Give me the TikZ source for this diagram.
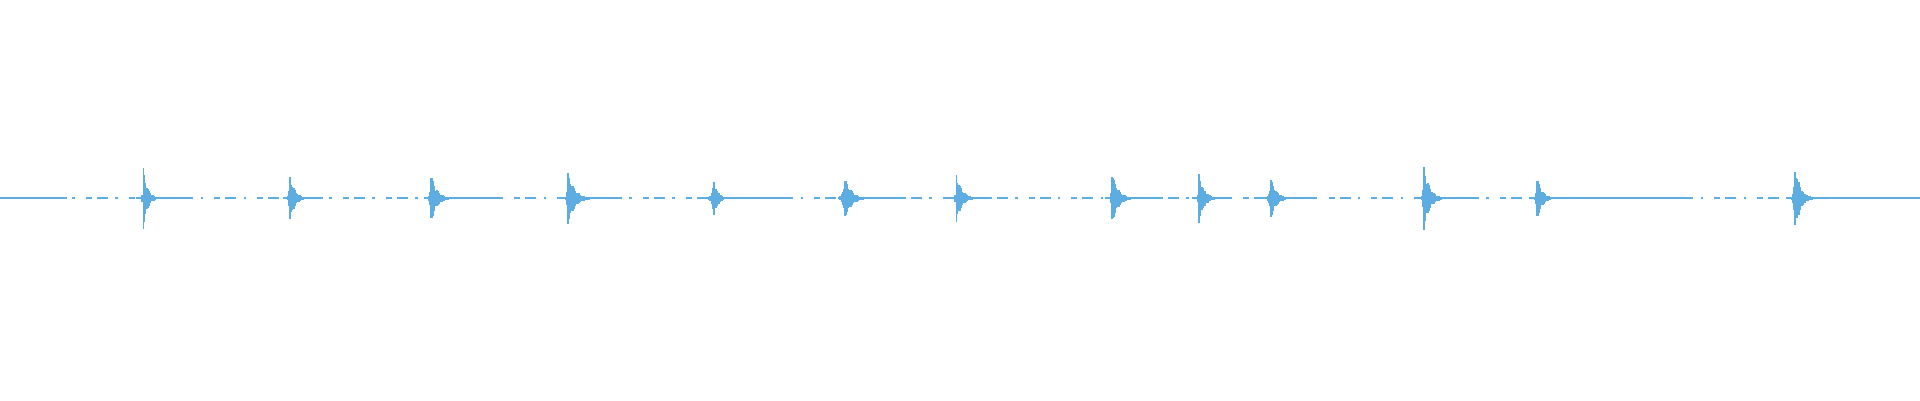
\documentclass[tikz,border=0pt]{standalone}
\usepackage{tikz}
\definecolor{wavecol}{RGB}{93,173,226}
\tikzset{
  wave/.style={wavecol, line width=0.15cm},
  burst/.style={wavecol, line width=0.12cm},
}
\begin{document}
\begin{tikzpicture}[x=0.1cm, y=0.1cm]
  \useasboundingbox (0,-165) rectangle (1568,162);
  % broken base line
  \draw[wave, dash pattern=on 5mm off 4mm on 9mm off 6mm on 2mm off 9mm] (0,0) -- (1568,0);
  % solid stretches after each burst
  \foreach \sa/\sb in {0/55, 117/155, 237/262, 352/410, 464/500, 583/640, 690/735,
                       781/800, 908/945, 979/990, 1038/1075, 1163/1200, 1255/1380, 1466/1568}
    \draw[wave] (\sa,0) -- (\sb,0);
  % bursts: position / amplitude / rise / decay
  \foreach \bx/\ba/\br/\bt in {117/26/0.5/3.5, 237/18/0.9/4, 352/22/0.8/4.5, 464/21/0.8/5.5,
                               583/15/1.8/3.5, 690/17/1.8/5.5, 781/20/0.5/4.5, 908/23/0.6/5,
                               979/20/0.5/4.5, 1038/17/1.4/4.5, 1163/26/0.8/4.5, 1255/20/0.7/4,
                               1466/26/1/4.5}{
    \foreach \k in {-5,...,26}{
      \pgfmathsetmacro\env{exp(max(-12,min(\k,0)/\br - max(\k,0)/\bt))}
      \pgfmathsetmacro\h{max(0.8,\ba*\env*(0.7+0.3*abs(sin(\k*137+\bx))))}
      \draw[burst] (\bx+\k,-\h) -- (\bx+\k,\h);
    }
  }
\end{tikzpicture}
\end{document}
